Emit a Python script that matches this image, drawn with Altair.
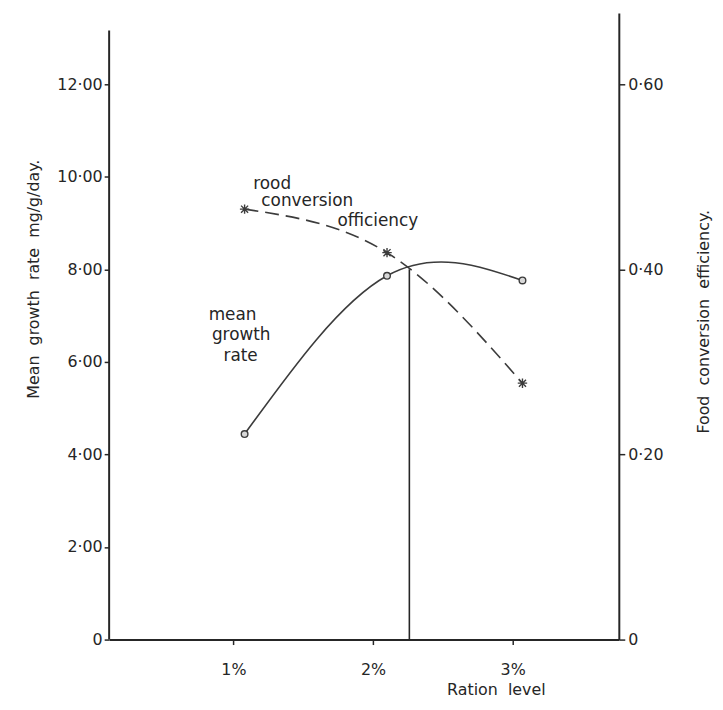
import altair as alt
import pandas as pd

# ---- values ----
ration = [1.08, 2.10, 3.07]              # ration level (%)
growth_rate = [4.44, 7.86, 7.76]         # mean growth rate mg/g/day (left axis)
conversion_eff = [0.465, 0.418, 0.277]   # food conversion efficiency (right axis)

x_ticks = [1, 2, 3]
left_ticks = [0, 2, 4, 6, 8, 10, 12]
right_ticks = [0, 0.2, 0.4, 0.6]

crossover_level = [2.26]                 # vertical line position (%)
crossover_growth = [8.0]                 # its height on the growth scale
left_axis_top = [13.16]                  # extent of drawn left axis line

fce_words = ["rood", "conversion", "officiency"]
fce_word_x = [1.142, 1.20, 1.745]
fce_word_y = [9.74, 9.36, 8.94]
growth_words = ["mean", "growth", "rate"]
growth_word_x = [0.823, 0.846, 0.929]
growth_word_y = [6.90, 6.47, 6.02]

left_domain = [0, 13.54]
right_domain = [0, 13.54 / 20]
x_domain = [0.11, 3.76]

INK = "#262626"
LINE = "#3c3c3c"
FONT = "DejaVu Sans"

df = pd.DataFrame({"ration": ration, "growth": growth_rate, "fce": conversion_eff})
rule_df = pd.DataFrame({"ration": crossover_level, "top": crossover_growth, "base": [0]})
axis_df = pd.DataFrame({"bottom": [0], "top": left_axis_top})
words_df = pd.DataFrame({
    "ration": fce_word_x + growth_word_x,
    "growth": fce_word_y + growth_word_y,
    "word": fce_words + growth_words,
})

lab = "datum.value == 0 ? '0' : replace(format(datum.value, '.2f'), '.', '·')"

x_axis = alt.Axis(
    values=x_ticks, labelExpr="datum.value + '%'", grid=False,
    title="Ration\u00a0\u00a0level", titleX=390, titleY=50,
    titleBaseline="middle", titleFontSize=16, titleFontWeight="normal",
    titleFont=FONT, titleColor=INK,
    tickSize=5, labelPadding=17, labelFontSize=16, labelFont=FONT,
    labelColor=INK, domainColor=INK, domainWidth=2, tickColor=INK,
    tickWidth=1.5,
)
left_axis = alt.Axis(
    values=left_ticks, labelExpr=lab, grid=False, domain=False,
    title="Mean\u00a0\u00a0growth\u00a0\u00a0rate\u00a0\u00a0mg/g/day.",
    titleX=-76, titleY=268, titleAngle=270, titleBaseline="middle",
    titleAlign="center", titleFontSize=16, titleFontWeight="normal",
    titleFont=FONT, titleColor=INK,
    tickSize=5, labelPadding=2, labelFontSize=16, labelFont=FONT,
    labelColor=INK, tickColor=INK, tickWidth=1.5,
)
right_axis = alt.Axis(
    orient="right", values=right_ticks, labelExpr=lab, grid=False,
    title="Food\u00a0\u00a0conversion\u00a0\u00a0efficiency.",
    titleX=85, titleY=311, titleAngle=270, titleBaseline="middle",
    titleAlign="center", titleFontSize=16, titleFontWeight="normal",
    titleFont=FONT, titleColor=INK,
    tickSize=6, labelPadding=3, labelFontSize=16, labelFont=FONT,
    labelColor=INK, domainColor=INK, domainWidth=2, tickColor=INK,
    tickWidth=1.5,
)

xscale = alt.Scale(domain=x_domain, nice=False, zero=False)
yleft_scale = alt.Scale(domain=left_domain, nice=False)
yright_scale = alt.Scale(domain=right_domain, nice=False)

X = alt.X("ration:Q", scale=xscale, axis=x_axis)
YL = alt.Y("growth:Q", scale=yleft_scale, axis=left_axis)
YR = alt.Y("fce:Q", scale=yright_scale, axis=right_axis)

growth_line = alt.Chart(df).mark_line(
    interpolate="natural", color=LINE, strokeWidth=1.6
).encode(x=X, y=YL)

growth_pts = alt.Chart(df).mark_point(
    shape="circle", size=45, filled=True, fill="#d8d8d8", stroke=LINE,
    strokeWidth=1.4, opacity=1,
).encode(x=X, y=YL)

cross_rule = alt.Chart(rule_df).mark_rule(color=INK, strokeWidth=1.6).encode(
    x=X,
    y=alt.Y("base:Q", scale=yleft_scale, axis=left_axis),
    y2="top:Q",
)

left_axis_line = alt.Chart(axis_df).mark_rule(color=INK, strokeWidth=2).encode(
    x=alt.value(0),
    y=alt.Y("bottom:Q", scale=yleft_scale, axis=left_axis),
    y2="top:Q",
)

words = alt.Chart(words_df).mark_text(
    align="left", baseline="alphabetic", font=FONT, fontSize=17, color=INK
).encode(x=X, y=YL, text="word:N")

left_layer = alt.layer(growth_line, growth_pts, cross_rule, left_axis_line, words)

fce_line = alt.Chart(df).mark_line(
    interpolate="natural", color=LINE, strokeWidth=1.6, strokeDash=[14, 7]
).encode(x=X, y=YR)

star = "M-1,0L1,0M0,-1L0,1M-0.75,-0.75L0.75,0.75M-0.75,0.75L0.75,-0.75"
fce_pts = alt.Chart(df).mark_point(
    shape=star, size=90, stroke=LINE, strokeWidth=1.4, opacity=1
).encode(x=X, y=YR)

right_layer = alt.layer(fce_line, fce_pts)

chart = alt.layer(left_layer, right_layer).resolve_scale(y="independent").properties(
    width=514,
    height=632,
    autosize=alt.AutoSizeParams(type="none"),
    padding={"left": 102, "top": 2, "right": 97, "bottom": 60},
    background="white",
).configure_view(stroke=None)

chart.save("out.html", embed_options={"renderer": "svg", "actions": False})
